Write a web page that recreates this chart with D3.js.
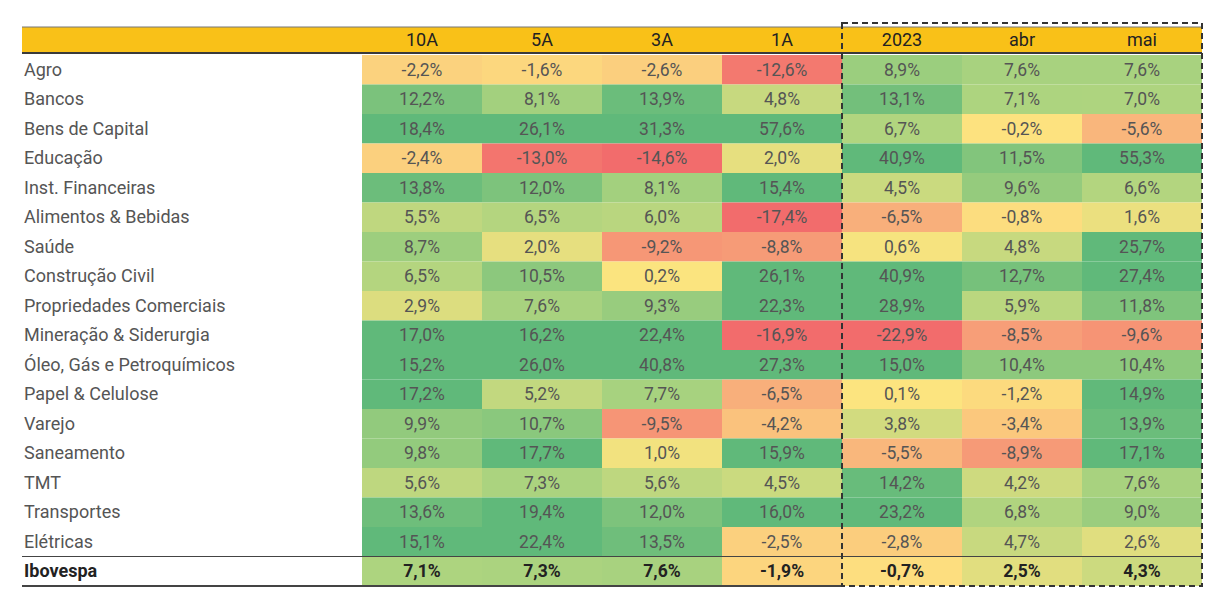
<!DOCTYPE html>
<html><head><meta charset="utf-8">
<script src="https://cdn.jsdelivr.net/npm/d3@7"></script>
<style>body{margin:0;background:#fff}</style>
</head><body><div id="chart"></div>
<script>
const columns = ["10A", "5A", "3A", "1A", "2023", "abr", "mai"];
const sectors = ["Agro","Bancos","Bens de Capital","Educação","Inst. Financeiras","Alimentos & Bebidas","Saúde","Construção Civil","Propriedades Comerciais","Mineração & Siderurgia","Óleo, Gás e Petroquímicos","Papel & Celulose","Varejo","Saneamento","TMT","Transportes","Elétricas","Ibovespa"];
const values = [
  [-2.2,-1.6,-2.6,-12.6,8.9,7.6,7.6],
  [12.2,8.1,13.9,4.8,13.1,7.1,7.0],
  [18.4,26.1,31.3,57.6,6.7,-0.2,-5.6],
  [-2.4,-13.0,-14.6,2.0,40.9,11.5,55.3],
  [13.8,12.0,8.1,15.4,4.5,9.6,6.6],
  [5.5,6.5,6.0,-17.4,-6.5,-0.8,1.6],
  [8.7,2.0,-9.2,-8.8,0.6,4.8,25.7],
  [6.5,10.5,0.2,26.1,40.9,12.7,27.4],
  [2.9,7.6,9.3,22.3,28.9,5.9,11.8],
  [17.0,16.2,22.4,-16.9,-22.9,-8.5,-9.6],
  [15.2,26.0,40.8,27.3,15.0,10.4,10.4],
  [17.2,5.2,7.7,-6.5,0.1,-1.2,14.9],
  [9.9,10.7,-9.5,-4.2,3.8,-3.4,13.9],
  [9.8,17.7,1.0,15.9,-5.5,-8.9,17.1],
  [5.6,7.3,5.6,4.5,14.2,4.2,7.6],
  [13.6,19.4,12.0,16.0,23.2,6.8,9.0],
  [15.1,22.4,13.5,-2.5,-2.8,4.7,2.6],
  [7.1,7.3,7.6,-1.9,-0.7,2.5,4.3]
];

const W = 1228, H = 606;
const left = 22, labelW = 340, right = 1202, headTop = 27, headBot = 53, rowTop = 55, rowH = 29.5;

const svg = d3.select("#chart").append("svg").attr("width", W).attr("height", H)
  .style("font-family", "Roboto, sans-serif");

const x = d3.scaleBand().domain(columns).range([left + labelW, right]);
const y = d3.scaleBand().domain(sectors).range([rowTop, rowTop + rowH * sectors.length]);
const color = d3.scaleLinear()
  .domain([-14, -7, 0, 7, 15])
  .range(["#f26c6c", "#f8ab7b", "#fde47f", "#aed47f", "#60b97a"])
  .clamp(true);

// header bar
svg.append("rect").attr("x", left).attr("y", headTop).attr("width", right - left).attr("height", headBot - headTop)
  .attr("fill", "#f9c118");
svg.append("line").attr("x1", left).attr("x2", right).attr("y1", headTop).attr("y2", headTop).attr("stroke", "#777").attr("stroke-width", 1);
svg.append("line").attr("x1", left).attr("x2", right).attr("y1", headBot).attr("y2", headBot).attr("stroke", "#3a3a3a").attr("stroke-width", 2);
svg.selectAll(".hdr").data(columns).join("text")
  .attr("x", d => x(d) + x.bandwidth() / 2).attr("y", (headTop + headBot) / 2 + 6)
  .attr("text-anchor", "middle").attr("font-size", 18).attr("fill", "#222").text(d => d);

// cells
const rows = svg.append("g").selectAll("g").data(values).join("g");
rows.selectAll("rect").data((r, i) => r.map((v, j) => ({v, c: columns[j], s: sectors[i]}))).join("rect")
  .attr("x", d => x(d.c)).attr("y", d => y(d.s)).attr("width", x.bandwidth()).attr("height", y.bandwidth())
  .attr("fill", d => color(d.v));
rows.selectAll("text").data((r, i) => r.map((v, j) => ({v, c: columns[j], s: sectors[i]}))).join("text")
  .attr("x", d => x(d.c) + x.bandwidth() / 2).attr("y", d => y(d.s) + y.bandwidth() / 2 + 6)
  .attr("text-anchor", "middle").attr("font-size", 17.5)
  .attr("font-weight", d => d.s === "Ibovespa" ? "bold" : "normal")
  .attr("fill", d => d.s === "Ibovespa" ? "#222" : "#555")
  .text(d => d.v.toFixed(1).replace(".", ",") + "%");

// row labels
svg.selectAll(".lbl").data(sectors).join("text")
  .attr("x", left + 2).attr("y", d => y(d) + y.bandwidth() / 2 + 6)
  .attr("font-size", 18)
  .attr("font-weight", d => d === "Ibovespa" ? "bold" : "normal")
  .attr("fill", d => d === "Ibovespa" ? "#222" : "#555")
  .text(d => d);

// lines around Ibovespa
const ib = y("Ibovespa");
svg.append("line").attr("x1", left).attr("x2", right).attr("y1", ib).attr("y2", ib).attr("stroke", "#444").attr("stroke-width", 1.2);
svg.append("line").attr("x1", left).attr("x2", x("2023")).attr("y1", ib + rowH).attr("y2", ib + rowH).attr("stroke", "#444").attr("stroke-width", 2);

// dashed box on last three columns
svg.append("rect").attr("x", x("2023")).attr("y", headTop - 4).attr("width", right - x("2023"))
  .attr("height", ib + rowH - headTop + 4)
  .attr("fill", "none").attr("stroke", "#333").attr("stroke-width", 2).attr("stroke-dasharray", "6,4");
</script></body></html>
